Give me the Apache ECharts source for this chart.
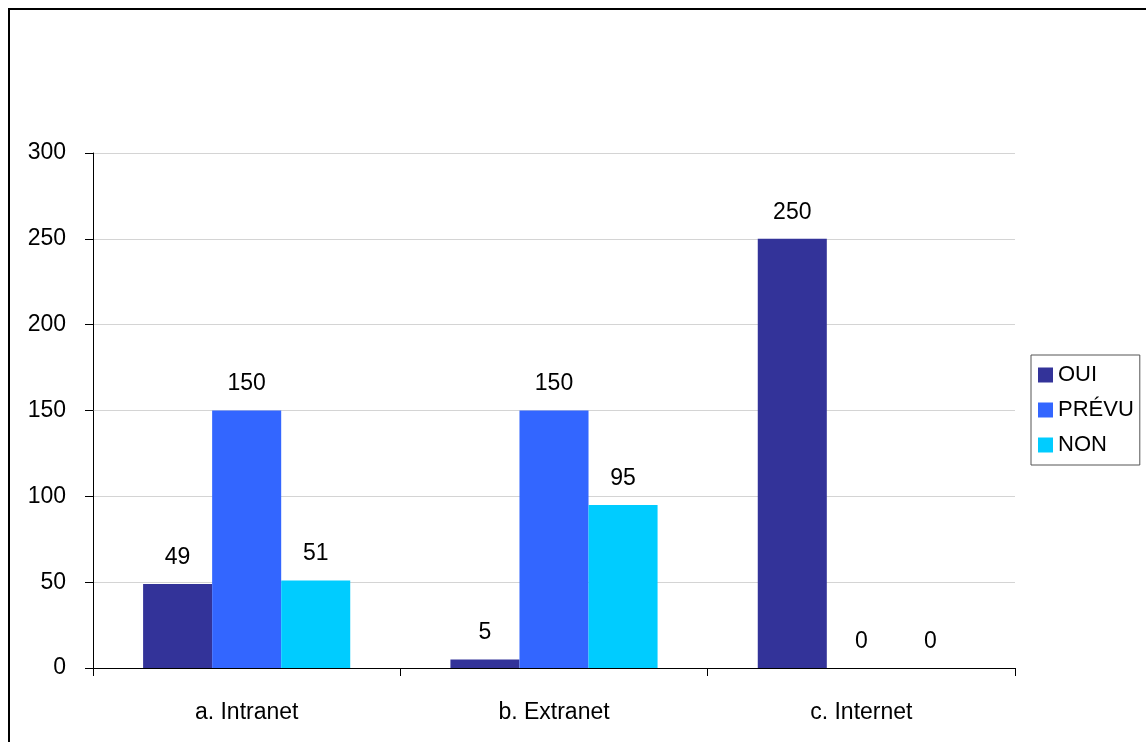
<!DOCTYPE html>
<html>
<head>
<meta charset="utf-8">
<script src="https://cdn.jsdelivr.net/npm/echarts@6/dist/echarts.min.js"></script>
<style>
  html, body { margin: 0; padding: 0; background: #ffffff; }
  #chart { width: 1146px; height: 742px; }
</style>
</head>
<body>
<div id="chart"></div>
<script>
// Catégories et séries
const categories = ['a. Intranet', 'b. Extranet', 'c. Internet'];
const seriesNames = ['OUI', 'PRÉVU', 'NON'];
const oui = [49, 5, 250];
const prevu = [150, 150, 0];
const non = [51, 95, 0];
const yTicks = [0, 50, 100, 150, 200, 250, 300];

const colors = ['#333399', '#3366FF', '#00CCFF'];
const font = 'Liberation Sans, Arial, sans-serif';
const values = [oui, prevu, non];

const chart = echarts.init(document.getElementById('chart'), null, { renderer: 'canvas' });

chart.setOption({
  animation: false,
  backgroundColor: '#ffffff',
  textStyle: { fontFamily: font },
  graphic: [{
    type: 'rect',
    shape: { x: 9, y: 9, width: 1300, height: 900 },
    style: { fill: 'none', stroke: '#000000', lineWidth: 2 },
    silent: true
  }],
  grid: { left: 93, top: 153, right: 131, bottom: 74, containLabel: false },
  legend: {
    orient: 'vertical',
    left: 1031,
    top: 355,
    padding: [9, 6, 9, 7],
    itemGap: 13,
    itemWidth: 15,
    itemHeight: 15,
    borderColor: '#555555',
    borderWidth: 1,
    borderRadius: 0,
    icon: 'rect',
    textStyle: { fontFamily: font, fontSize: 22, color: '#000000' },
    data: seriesNames
  },
  xAxis: {
    type: 'category',
    data: categories,
    axisLine: { lineStyle: { color: '#000000', width: 1 } },
    axisTick: { show: true, length: 8, lineStyle: { color: '#000000' } },
    axisLabel: { fontFamily: font, fontSize: 23, color: '#000000', margin: 33 },
    splitLine: { show: false }
  },
  yAxis: {
    type: 'value',
    min: yTicks[0],
    max: yTicks[yTicks.length - 1],
    interval: 50,
    axisLine: { show: true, lineStyle: { color: '#000000', width: 1 } },
    axisTick: { show: true, length: 8, lineStyle: { color: '#000000' } },
    axisLabel: { fontFamily: font, fontSize: 23, color: '#000000', margin: 27 },
    splitLine: { show: true, lineStyle: { color: '#d4d4d4', width: 1 } }
  },
  series: seriesNames.map((name, i) => ({
    name: name,
    type: 'bar',
    data: values[i],
    barGap: '0%',
    barCategoryGap: '32.6%',
    itemStyle: { color: colors[i] },
    label: {
      show: true,
      position: 'top',
      distance: 15,
      fontFamily: font,
      fontSize: 23,
      color: '#000000'
    }
  }))
});
</script>
</body>
</html>
